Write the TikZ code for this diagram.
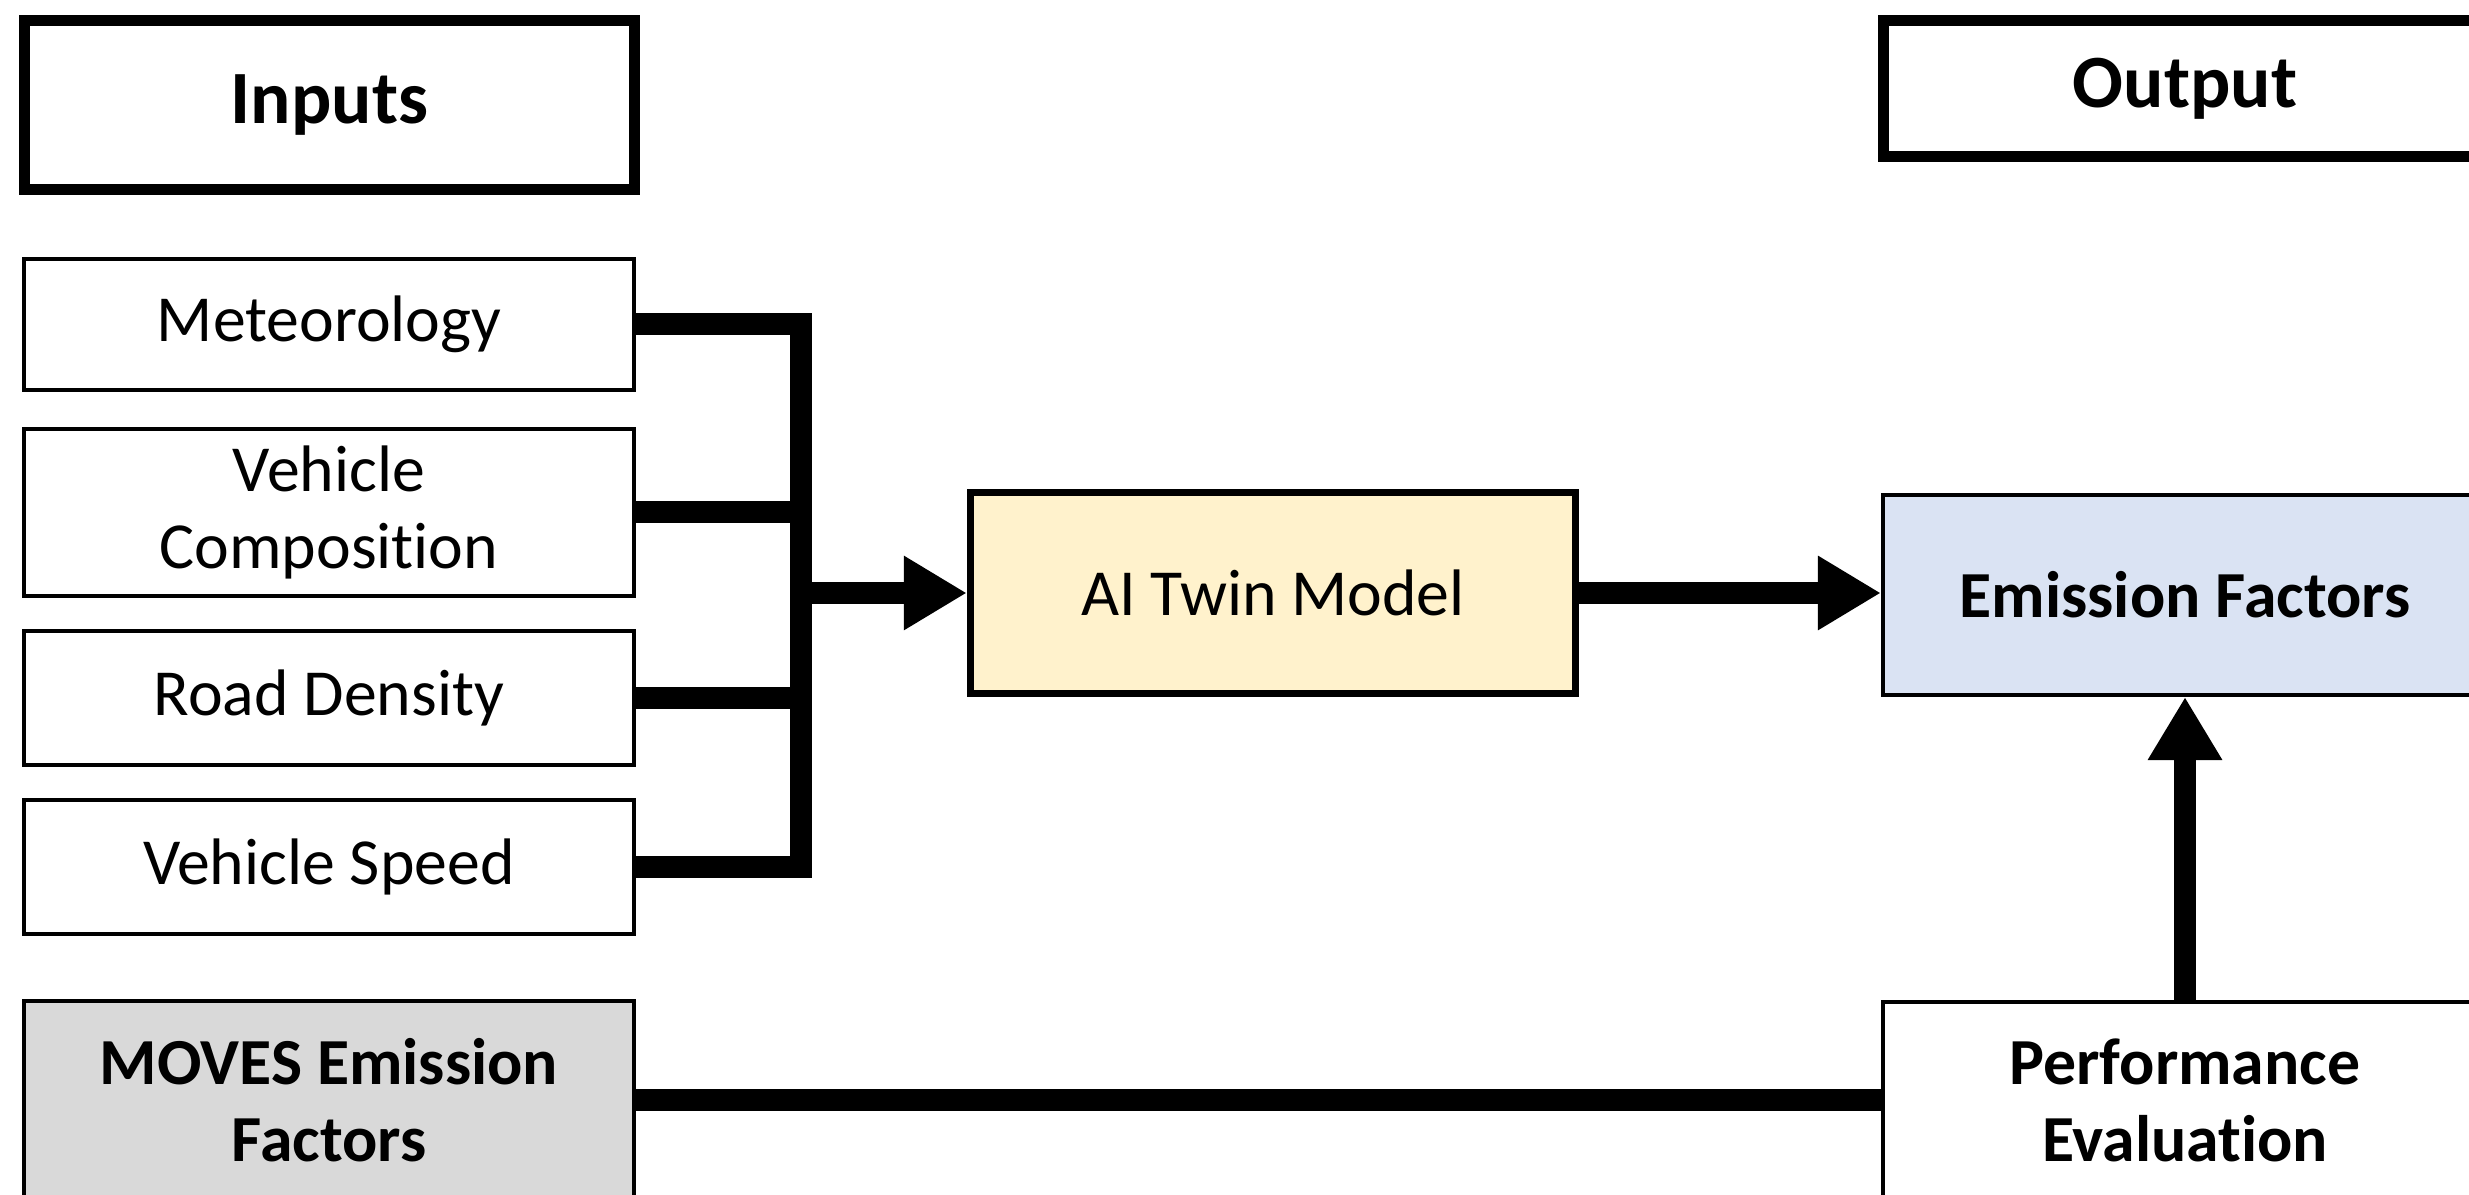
\documentclass[tikz,border=0pt]{standalone}
\usepackage{fontspec}
\setmainfont{Carlito}[Ligatures=NoCommon]
\usetikzlibrary{arrows.meta}

\definecolor{aifill}{HTML}{FFF2CC}
\definecolor{effill}{HTML}{DAE3F3}
\definecolor{movesfill}{HTML}{D9D9D9}

\begin{document}
\begin{tikzpicture}[x=0.01cm, y=-0.01cm,
  box/.style={draw=black, line width=1.1pt, fill=white, align=center,
    inner sep=0pt, font=\fontsize{18.7pt}{21.9pt}\selectfont},
  boldbox/.style={box, font=\fontsize{18.7pt}{21.9pt}\selectfont\bfseries},
  header/.style={draw=black, line width=3.1pt, fill=white, align=center,
    inner sep=0pt, font=\fontsize{21.4pt}{26pt}\selectfont\bfseries},
  conn/.style={draw=black, line width=0.22cm, line cap=butt, line join=miter},
  tip/.style={-{Triangle[length=0.63cm, width=0.70cm]}}
]
\clip (0,0) rectangle (2469,1195);
\fill[white] (0,0) rectangle (2469,1195);

% column headers
\node[header, minimum width=6.10cm, minimum height=1.69cm] (inputs) at (329.5,105) {Inputs};
\node[header, minimum width=6.03cm, minimum height=1.36cm] (output) at (2185,88.5) {Output};

% input boxes
\node[box, minimum width=6.10cm, minimum height=1.31cm] (met)  at (329,324.5) {Meteorology};
\node[box, minimum width=6.10cm, minimum height=1.67cm] (comp) at (329,512.5) {Vehicle\\Composition};
\node[box, minimum width=6.10cm, minimum height=1.34cm] (road) at (329,698)   {Road Density};
\node[box, minimum width=6.10cm, minimum height=1.34cm] (spd)  at (329,867)   {Vehicle Speed};
\node[boldbox, fill=movesfill, minimum width=6.10cm, minimum height=1.98cm] (moves) at (329,1100) {MOVES Emission\\Factors};

% model and outputs
\node[box, fill=aifill, line width=2pt, minimum width=6.05cm, minimum height=2.01cm] (ai) at (1273,593) {AI Twin Model};
\node[boldbox, fill=effill, minimum width=6.04cm, minimum height=2.00cm] (ef) at (2185,595) {Emission Factors};
\node[boldbox, minimum width=6.04cm, minimum height=1.96cm] (perf) at (2185,1100) {Performance\\Evaluation};

% collecting bus of the inputs
\coordinate (bus) at (801,593);
\draw[conn] (met.east) -| (bus) |- (spd.east);
\draw[conn] (comp.east) -- (comp.east -| bus);
\draw[conn] (road.east) -- (road.east -| bus);
\draw[conn, tip] (bus) -- (ai.west);

% model to emission factors, evaluation feedback
\draw[conn, tip] (ai.east) -- (ai.east -| ef.west);
\draw[conn, tip] (perf.north) -- (ef.south);
\draw[conn] (moves.east) -- (perf.west);
\end{tikzpicture}
\end{document}
